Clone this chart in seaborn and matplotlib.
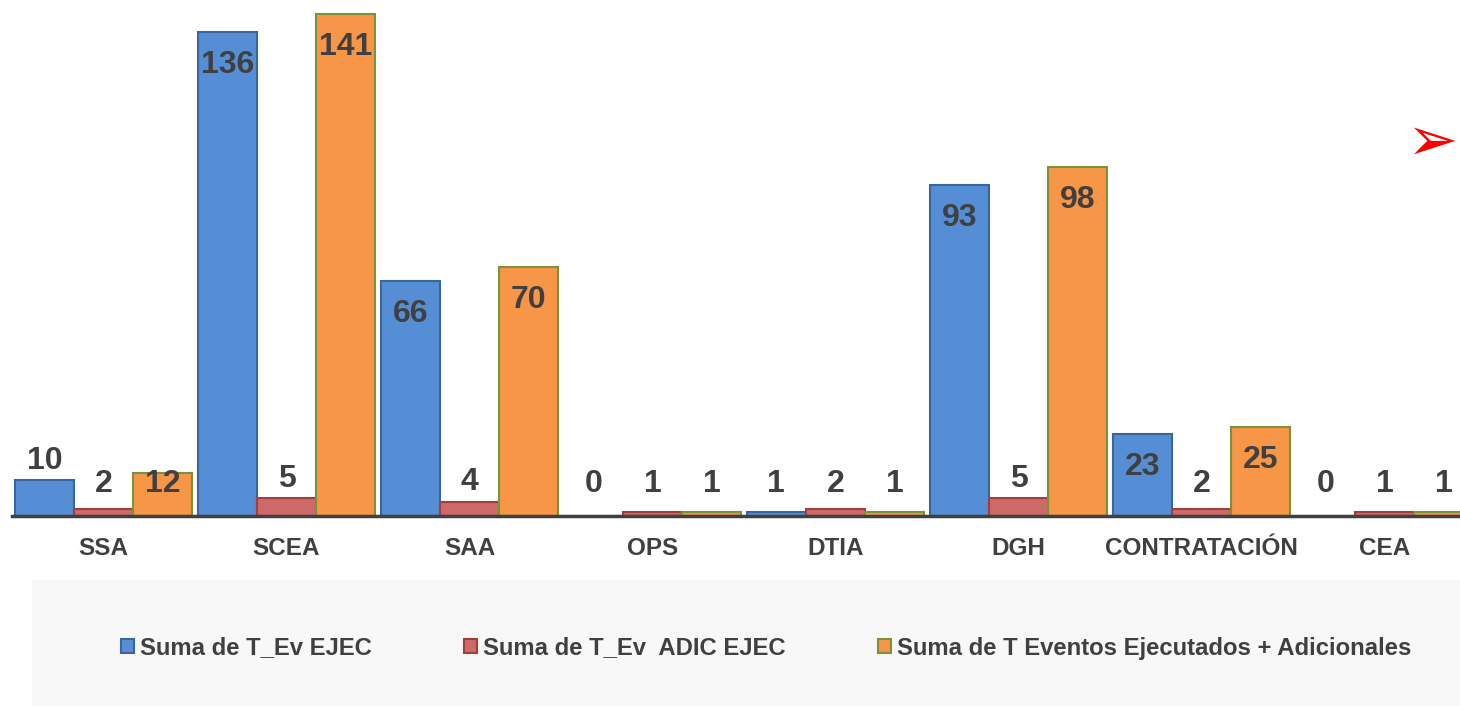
import pandas as pd
import matplotlib
matplotlib.use("Agg")
import matplotlib.pyplot as plt
import matplotlib.patches as mpatches
import seaborn as sb

areas = ['SSA', 'SCEA', 'SAA', 'OPS', 'DTIA', 'DGH', 'CONTRATACIÓN', 'CEA']
ev_ejec = [10, 136, 66, 0, 1, 93, 23, 0]
ev_adic = [2, 5, 4, 1, 2, 5, 2, 1]
ev_total = [12, 141, 70, 1, 1, 98, 25, 1]
series = ['Suma de T_Ev EJEC', 'Suma de T_Ev  ADIC EJEC',
          'Suma de T Eventos Ejecutados + Adicionales']

fills = ['#558ED5', '#CD6A67', '#F79646']
edges = ['#3A65A0', '#A0403D', '#77933C']
txt = '#404040'

df = pd.DataFrame({
    'area': areas * 3,
    'serie': [series[0]] * 8 + [series[1]] * 8 + [series[2]] * 8,
    'valor': ev_ejec + ev_adic + ev_total,
})

sb.set_style('white')
plt.rcParams['font.family'] = ['Liberation Sans', 'DejaVu Sans']

fig = plt.figure(figsize=(14.6, 7.06), dpi=100)
ax = fig.add_axes([12 / 1460, 190 / 706, 1464 / 1460, 516 / 706])

sb.barplot(data=df, x='area', y='valor', hue='serie', hue_order=series,
           order=areas, palette=fills, saturation=1, width=0.97, gap=0,
           ax=ax, legend=False, errorbar=None)

# edges per series + value labels
for cont, ec in zip(ax.containers, edges):
    for bar in cont:
        bar.set_edgecolor(ec)
        bar.set_linewidth(1.5)
        v = bar.get_height()
        cx = bar.get_x() + bar.get_width() / 2
        if v >= 12:
            y = max(v - 9.3, 9)
        else:
            y = max(v + 5.5, 9)
        ax.text(cx, y, f'{v:.0f}', ha='center', va='center',
                fontsize=23, fontweight='bold', color=txt)

ax.set_xlim(-0.5, 7.5)
ax.set_ylim(0, 145)
ax.set_xlabel('')
ax.set_ylabel('')
ax.set_yticks([])
for s in ['top', 'right', 'left']:
    ax.spines[s].set_visible(False)
ax.spines['bottom'].set_color(txt)
ax.spines['bottom'].set_linewidth(2.5)
ax.tick_params(axis='x', length=0, pad=15)
for lab in ax.get_xticklabels():
    lab.set_fontsize(17.5)
    lab.set_fontweight('bold')
    lab.set_color(txt)

# legend panel
fig.patches.append(mpatches.Rectangle((32 / 1460, 0), 1428 / 1460, 126 / 706,
                                      transform=fig.transFigure,
                                      facecolor='#F8F8F8', edgecolor='none',
                                      zorder=0))
handles = [mpatches.Patch(facecolor=f, edgecolor=e, linewidth=1.5)
           for f, e in zip(fills, edges)]
leg = fig.legend(handles, series, loc='center', ncol=3,
                 bbox_to_anchor=(766 / 1460, 58 / 706), frameon=False,
                 handlelength=0.55, handleheight=0.55, handletextpad=0.25,
                 columnspacing=3.85,
                 prop={'weight': 'bold', 'size': 17.2})
for t in leg.get_texts():
    t.set_color(txt)

fig.text(1432 / 1460, 563 / 706, '➢', color='#FF0000', fontsize=44,
         family='DejaVu Sans', ha='center', va='center')

fig.savefig('out.png', dpi=100)
